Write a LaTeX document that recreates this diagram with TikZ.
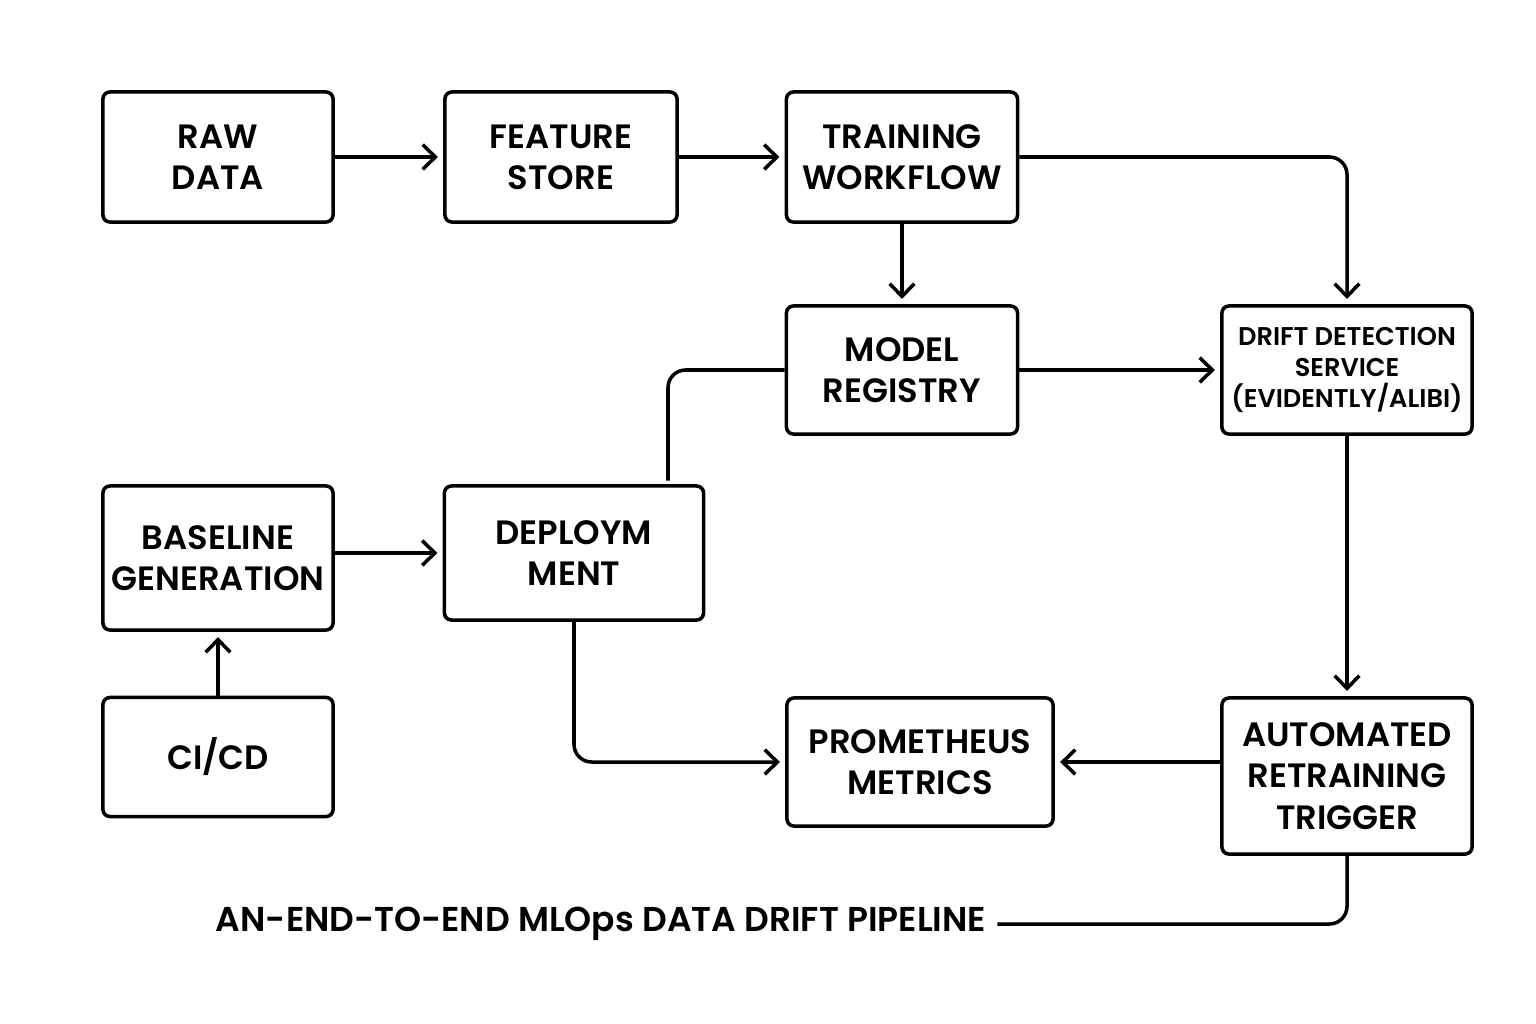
\documentclass[tikz,border=0pt]{standalone}
\usepackage{fontspec}
\setmainfont{Poppins}[BoldFont={Poppins SemiBold}]
\usetikzlibrary{arrows.meta}
\begin{document}
\begin{tikzpicture}[x=0.01cm,y=-0.01cm,
        box/.style={draw,rounded corners=2pt,line width=1pt,align=center,inner sep=1pt,
            font=\bfseries\fontsize{9.6}{11.7}\selectfont},
        link/.style={line width=1pt,rounded corners=5pt,
            -{Straight Barb[length=3.6pt,width=7pt]},shorten >=1.5pt}]
        \useasboundingbox (0,0) rectangle (1536,1024);

        \node[box, minimum width=2.3cm, minimum height=1.3cm] (raw) at (218,157) {RAW\\DATA};
        \node[box, minimum width=2.32cm, minimum height=1.3cm] (feature) at (561,157) {FEATURE\\STORE};
        \node[box, minimum width=2.31cm, minimum height=1.3cm] (training) at (902,157) {TRAINING\\WORKFLOW};
        \node[box, minimum width=2.31cm, minimum height=1.28cm] (registry) at (902,370) {MODEL\\REGISTRY};
        \node[box, minimum width=2.5cm, minimum height=1.28cm,
            font=\bfseries\fontsize{7.3}{8.9}\selectfont] (drift) at (1347,370) {DRIFT DETECTION\\SERVICE\\(EVIDENTLY/ALIBI)};
        \node[box, minimum width=2.3cm, minimum height=1.44cm] (baseline) at (218,558) {BASELINE\\GENERATION};
        \node[box, minimum width=2.59cm, minimum height=1.34cm] (deploy) at (574,553) {DEPLOYM\\MENT};
        \node[box, minimum width=2.3cm, minimum height=1.19cm] (cicd) at (218,757) {CI/CD};
        \node[box, minimum width=2.66cm, minimum height=1.28cm] (metrics) at (920,762) {PROMETHEUS\\METRICS};
        \node[box, minimum width=2.5cm, minimum height=1.56cm] (trigger) at (1347,776) {AUTOMATED\\RETRAINING\\TRIGGER};
        \node[inner sep=1.5pt, font=\bfseries\fontsize{9.8}{12}\selectfont] (caption) at (601,924)
            {AN-END-TO-END MLOps DATA DRIFT PIPELINE};
        \coordinate (tap) at (668,486);

        \draw[link] (raw.east) -- (feature.west);
        \draw[link] (feature.east) -- (training.west);
        \draw[link] (training.south) -- (registry.north);
        \draw[link] (training.east) -| (drift.north);
        \draw[link] (registry.east) -- (drift.west);
        \draw[link, -] (registry.west) -| (tap);
        \draw[link] (deploy.west -| baseline.east) -- (deploy.west);
        \draw[link] (cicd.north) -- (baseline.south);
        \draw[link] (drift.south) -- (trigger.north);
        \draw[link] (deploy.south) |- (metrics.west);
        \draw[link] (trigger.west |- metrics.east) -- (metrics.east);
        \draw[link, -] (trigger.south) |- (caption.east);
    \end{tikzpicture}
\end{document}
